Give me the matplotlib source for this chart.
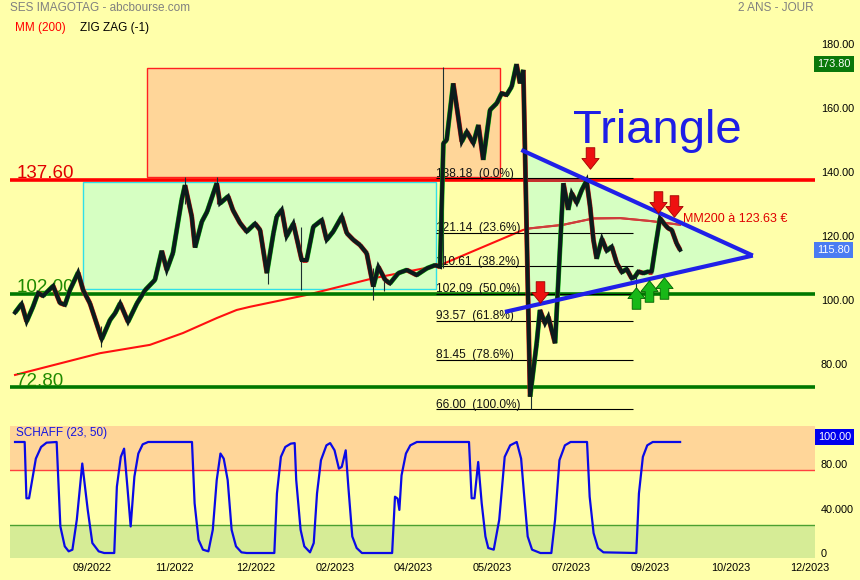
import numpy as np
import matplotlib
matplotlib.use('Agg')
import matplotlib.pyplot as plt
from matplotlib.path import Path
from matplotlib.patches import Rectangle, Polygon
from matplotlib.collections import LineCollection
import matplotlib.transforms as mtransforms

plt.rcParams['font.family'] = ['Liberation Sans', 'DejaVu Sans']

# ------------------------------------------------------------------ data
# x axis = trading-day (bar) index
price_bars = [0, 3.0, 5.3, 8.2, 10.5, 12.8, 17.4, 20.5, 22.8, 25.1, 28.8, 31.1, 34.2, 39.6,
              43.4, 45.7, 48.0, 51.6, 55.7, 59.4, 63.9, 67.0, 69.3, 72.1, 76.1, 77.6, 80.7,
              82.2, 85.3, 87.7, 92.1, 93.6, 97.3, 99.5, 102.7, 105.8, 109.6, 111.9, 115.0,
              118.0, 119.5, 121.8, 124.0, 127.1, 130.9, 133.2, 136.2, 140.1, 142.3, 145.3,
              149.2, 151.5, 154.5, 157.5, 160.6, 163.6, 165.9, 169.0, 171.2, 175.0, 178.9,
              183.4, 188.0, 191.8, 194.1, 195.6, 197.1, 200.1, 201.7, 204.0, 206.3, 209.3,
              211.6, 213.8, 216.9, 220.0, 222.2, 224.5, 226.8, 229.0, 230.6, 232.1, 235.2,
              238.2, 239.7, 242.0, 243.5, 246.6, 250.4, 252.6, 254.2, 256.5, 258.8, 261.0,
              262.6, 264.1, 265.6, 268.0, 270.2, 272.5, 274.8, 277.1, 279.3, 281.6, 283.1,
              284.6, 286.9, 289.2, 290.7, 292.2, 294.5, 296.8, 298.3, 299.9, 302.1, 303.7]
price_vals = [96.2, 98.9, 93.4, 98.0, 102.3, 101.4, 104.5, 99.2, 98.6, 103.3, 108.7, 103.2,
              99.1, 87.9, 93.9, 96.0, 99.1, 93.3, 99.1, 103.2, 106.4, 115.5, 109.5, 114.8,
              131.4, 136.0, 126.2, 116.5, 124.6, 127.7, 136.6, 130.3, 132.5, 128.2, 124.2,
              121.5, 124.0, 122.0, 108.5, 121.0, 126.2, 128.3, 120.0, 124.0, 112.6, 112.6,
              123.0, 125.1, 118.9, 121.5, 126.2, 121.0, 118.9, 117.3, 114.7, 104.3, 110.5,
              106.4, 105.3, 108.5, 109.5, 107.9, 110.0, 111.0, 110.5, 149.1, 150.1, 167.8,
              160.5, 149.6, 152.7, 149.1, 154.8, 143.9, 159.5, 161.6, 164.7, 164.2, 166.8,
              173.8, 167.8, 172.0, 69.9, 86.6, 97.0, 92.8, 94.9, 86.6, 136.6, 128.3, 133.5,
              130.5, 134.5, 137.4, 129.3, 119.0, 113.0, 119.2, 115.5, 116.8, 111.6, 108.8,
              109.8, 106.9, 107.4, 109.0, 108.5, 109.0, 109.0, 115.8, 125.7, 123.6, 122.5,
              122.0, 117.8, 115.8]

wick_bars = [39.3, 77.6, 92.1, 115.5, 130.6, 163.5, 168.5, 195.4, 235.6, 283.5]
wick_lows = [85.5, 130.0, 130.0, 105.0, 103.2, 100.0, 103.0, 110.0, 66.0, 103.2]
wick_highs = [92.0, 138.6, 138.6, 112.0, 123.0, 110.0, 108.0, 173.0, 72.0, 108.0]

ma_bars = [0, 38.8, 61.6, 76.7, 92.2, 101.2, 107.3, 133.2, 163.5, 194.1, 232.0, 235.2,
           250.2, 264.1, 276.3, 290.0, 303.7]
ma_vals = [76.7, 83.5, 86.1, 89.8, 94.5, 97.0, 98.0, 101.7, 106.9, 111.0, 122.0, 122.5,
           123.6, 125.6, 125.7, 124.8, 123.63]

schaff_bars = [0, 4.4, 5.2, 6.4, 9.5, 11.9, 14.4, 19.0, 20.7, 22.7, 24.5, 26.2, 28.2, 30.7,
               33.2, 35.3, 38.2, 40.7, 45.3, 46.5, 48.3, 49.8, 51.3, 52.8, 54.5, 56.3, 58.3,
               60.8, 80.8, 82.0, 83.8, 85.8, 88.3, 90.3, 92.1, 93.8, 95.3, 97.1, 98.9, 100.9,
               103.4, 105.8, 118.4, 119.6, 121.4, 123.4, 125.9, 127.7, 128.4, 130.4, 132.1,
               134.7, 136.4, 137.9, 139.7, 142.2, 143.9, 145.9, 147.9, 149.2, 151.0, 152.2,
               154.0, 156.0, 158.4, 172.2, 173.5, 174.7, 175.5, 176.5, 178.5, 180.5, 183.5,
               207.3, 208.5, 209.8, 211.5, 213.1, 214.8, 216.1, 218.6, 221.1, 223.6, 226.1,
               229.1, 231.1, 232.4, 234.1, 236.1, 239.9, 244.9, 246.6, 248.6, 251.1, 253.7,
               261.2, 262.4, 264.2, 266.2, 268.7, 283.7, 284.9, 286.7, 288.7, 291.2, 303.7]
schaff_vals = [100, 100, 49.3, 49.3, 85, 95.5, 99.4, 100, 23.9, 6, 1.5, 3, 29.9, 80.6, 38.8,
               9, 1.5, 0, 0, 59.7, 86.6, 94, 59.7, 23.9, 68.7, 89.6, 97.9, 100, 100, 44.8,
               11.9, 3, 1.5, 20.9, 65.7, 89.6, 85, 65.7, 20.9, 6, 0.6, 0, 0, 53.7, 86.6, 95.5,
               98.5, 99, 65.7, 20.9, 6, 0.6, 9, 53.7, 83.6, 97, 99, 92.5, 76, 77.6, 92.5, 59.7,
               14.9, 4.5, 0, 0, 50.7, 49, 38.8, 70, 89.6, 97, 100, 100, 49.3, 49.3, 82, 44.8,
               14.9, 4.5, 3, 29.9, 86.6, 97, 100, 85, 53.7, 14.9, 3, 0, 0, 29.9, 83.6, 97,
               100, 100, 50.7, 17.9, 4.5, 0.6, 0, 53.7, 86.6, 97, 100, 100]

levels = [137.60, 102.00, 72.80]
level_colors = ['#FF0000', '#007800', '#007800']
level_text_colors = ['#E00000', '#1F8A00', '#1F8A00']

fib_values = [138.18, 121.14, 110.61, 102.09, 93.57, 81.45, 66.00]
fib_pcts = ['0.0%', '23.6%', '38.2%', '50.0%', '61.8%', '78.6%', '100.0%']
fib_span = [192.3, 282.0]

orange_box = [60.3, 221.5, 138.6, 172.6]   # bar0, bar1, low, high
green_box = [31.0, 192.2, 103.5, 137.1]

tri_upper_bars = [231.2, 336.9]
tri_upper_vals = [147.0, 114.0]
tri_lower_bars = [223.7, 336.9]
tri_lower_vals = [96.4, 114.0]
tri_fill_start = 233.8

red_arrow_bars = [262.6, 239.7, 293.6, 300.9]
red_arrow_vals = [144.4, 102.7, 130.8, 129.4]
green_arrow_bars = [283.6, 289.5, 296.3]
green_arrow_vals = [100.75, 102.9, 103.8]

xtick_pos = [35, 73, 110, 146, 182, 218, 254, 290, 327, 363]
xtick_labels = ['09/2022', '11/2022', '12/2022', '02/2023', '04/2023', '05/2023',
                '07/2023', '09/2023', '10/2023', '12/2023']
main_yticks = [180, 160, 140, 120, 100, 80]
schaff_yticks = [80, 40, 0]
schaff_ylabels = ['80.00', '40.000', '0']
schaff_hi, schaff_lo = 75, 25

last_price = 115.80
max_price = 173.80
ma_last = 123.63

# ------------------------------------------------------------------ figure
BG = '#FFFFAA'
W, H = 860, 580
fig = plt.figure(figsize=(W / 100, H / 100), dpi=100, facecolor=BG)
ax = fig.add_axes([10 / W, 1 - 418 / H, 805 / W, 390 / H])
ax2 = fig.add_axes([10 / W, 1 - 558 / H, 805 / W, 132 / H], sharex=ax)
for a in (ax, ax2):
    a.set_facecolor(BG)
    for s in a.spines.values():
        s.set_visible(False)

ax.set_xlim(-2.3, 365.3)
ax.set_ylim(63.25, 185.1)
ax2.set_ylim(-4.5, 114.4)

# boxes
ax.add_patch(Rectangle((orange_box[0], orange_box[2]), orange_box[1] - orange_box[0],
                       orange_box[3] - orange_box[2], fc='#FFD699', ec='#FF2020', lw=1.0, zorder=1))
ax.add_patch(Rectangle((green_box[0], green_box[2]), green_box[1] - green_box[0],
                       green_box[3] - green_box[2], fc='#D6FFC2', ec='#30E0E8', lw=1.0, zorder=1))

# triangle fill (under the lines; lines inside are darkened via clipped overlays)
up_at = np.interp(tri_fill_start, tri_upper_bars, tri_upper_vals)
lo_at = np.interp(tri_fill_start, tri_lower_bars, tri_lower_vals)
tri_patch = Polygon([(tri_fill_start, up_at), (tri_upper_bars[1], tri_upper_vals[1]),
                     (tri_fill_start, lo_at)], closed=True, fc='#D6FFC2', ec='none', zorder=1.5)
ax.add_patch(tri_patch)

# moving average
ax.plot(ma_bars, ma_vals, color='#FF1010', lw=1.5, zorder=2)
ma_dark, = ax.plot(ma_bars, ma_vals, color='#C84040', lw=1.4, zorder=2.1)
ma_dark.set_clip_path(tri_patch)

# horizontal levels
for lv, c, tc in zip(levels, level_colors, level_text_colors):
    ax.axhline(lv, color=c, lw=2.6, zorder=3)
    ax.text(0.5, lv + 0.6, f'{lv:.2f}', color=tc, fontsize=13.5, va='baseline', ha='left', zorder=3)
lv_dark = ax.axhline(levels[0], color='#C03030', lw=2.6, zorder=3.1)
lv_dark.set_clip_path(tri_patch)

# fibonacci
ax.hlines(fib_values, fib_span[0], fib_span[1], color='black', lw=0.8, zorder=5)
for v, p in zip(fib_values, fib_pcts):
    ax.text(fib_span[0], v + 0.5, f'{v:.2f}  ({p})', fontsize=8.6, color='#111111',
            va='baseline', ha='left', zorder=5)

# wicks
ax.vlines(wick_bars, wick_lows, wick_highs, color='#1C3030', lw=0.8, zorder=5)

# price (candle colours under zig-zag line)
pts = np.column_stack([price_bars, price_vals])
segs = np.stack([pts[:-1], pts[1:]], axis=1)
cols = ['#10C010' if b > a else '#D01818' for a, b in zip(price_vals[:-1], price_vals[1:])]
ax.add_collection(LineCollection(segs, colors=cols, linewidths=3.5, zorder=6, capstyle='butt'))
ax.plot(price_bars, price_vals, color='#0B1C1C', lw=2.9, zorder=7, solid_joinstyle='miter')

# triangle lines
ax.plot(tri_upper_bars, tri_upper_vals, color='#2020E8', lw=3.0, zorder=8, solid_capstyle='butt')
ax.plot(tri_lower_bars, tri_lower_vals, color='#2020E8', lw=3.0, zorder=8, solid_capstyle='butt')

# arrows
down = Path([(-0.4, 1), (0.4, 1), (0.4, 0), (0.8, 0), (0, -1), (-0.8, 0), (-0.4, 0), (-0.4, 1)],
            [Path.MOVETO] + [Path.LINETO] * 6 + [Path.CLOSEPOLY])
up = Path([(x, -y) for x, y in down.vertices], down.codes)
ax.plot(red_arrow_bars, red_arrow_vals, ls='none', marker=down, markersize=15.5,
        mfc='#EE1010', mec='#A00000', mew=0.6, zorder=9)
ax.plot(green_arrow_bars, green_arrow_vals, ls='none', marker=up, markersize=15.5,
        mfc='#18B818', mec='#006000', mew=0.6, zorder=9)

# annotations
ax.text(254.8, 149.1, 'Triangle', color='#1E1EE6', fontsize=34, va='baseline', ha='left', zorder=9)
ax.text(305, 125.3, f'MM200 à {ma_last:.2f} €', color='#E00000', fontsize=9, va='center',
        ha='left', zorder=9)

# right axis
ax.yaxis.tick_right()
ax.set_yticks(main_yticks)
ax.set_yticklabels([f'{v:.2f}' for v in main_yticks])
ax.tick_params(axis='y', length=0, pad=4.3, labelsize=7.8, labelcolor='#000000')
ax.tick_params(axis='x', bottom=False, labelbottom=False)

ytr = ax.get_yaxis_transform()
ax.text(1.0025, max_price, f'{max_price:.2f}', transform=ytr, color='white', fontsize=7.8,
        va='center', ha='left', clip_on=False,
        bbox=dict(boxstyle='square,pad=0.3', fc='#0B780B', ec='none'))
ax.text(1.0025, last_price, f'{last_price:.2f}', transform=ytr, color='white', fontsize=7.8,
        va='center', ha='left', clip_on=False,
        bbox=dict(boxstyle='square,pad=0.3', fc='#4A7CF2', ec='none'))

# ------------------------------------------------------------------ schaff
ax2.axhspan(schaff_hi, 114.4, color='#FFD699', lw=0, zorder=0)
ax2.axhspan(-4.5, schaff_lo, color='#D6EC96', lw=0, zorder=0)
ax2.axhline(schaff_hi, color='#FF4040', lw=1.0, zorder=1)
ax2.axhline(schaff_lo, color='#4CA030', lw=1.0, zorder=1)
ax2.plot(schaff_bars, schaff_vals, color='#0A0AE6', lw=1.6, zorder=3)
ax2.text(0.5, 108, 'SCHAFF (23, 50)', color='#1414E0', fontsize=8.5, va='center', ha='left')

ax2.yaxis.tick_right()
ax2.set_yticks(schaff_yticks)
ax2.set_yticklabels(schaff_ylabels)
ax2.tick_params(axis='y', length=0, pad=4.3, labelsize=7.8, labelcolor='#000000')
ax2.set_xticks(xtick_pos)
ax2.set_xticklabels(xtick_labels)
ax2.tick_params(axis='x', length=0, pad=3.6, labelsize=7.8, labelcolor='#000000')

off = mtransforms.ScaledTranslation(0, 5 / 100, fig.dpi_scale_trans)
ax2.text(1.0035, 100, '100.00', transform=ax2.get_yaxis_transform() + off, color='white',
         fontsize=7.8, va='center', ha='left', clip_on=False,
         bbox=dict(boxstyle='square,pad=0.3', fc='#0000EE', ec='none'))

# header
fig.text(10 / W, 1 - 8 / H, 'SES IMAGOTAG - abcbourse.com', color='#808080', fontsize=8.5, va='center')
fig.text(814 / W, 1 - 8 / H, '2 ANS - JOUR', color='#808080', fontsize=8.5, va='center', ha='right')
fig.text(15 / W, 1 - 28 / H, 'MM (200)', color='#FF0000', fontsize=8.5, va='center')
fig.text(80 / W, 1 - 28 / H, 'ZIG ZAG (-1)', color='#000000', fontsize=8.5, va='center')

fig.savefig('out.png', dpi=100, facecolor=BG)
